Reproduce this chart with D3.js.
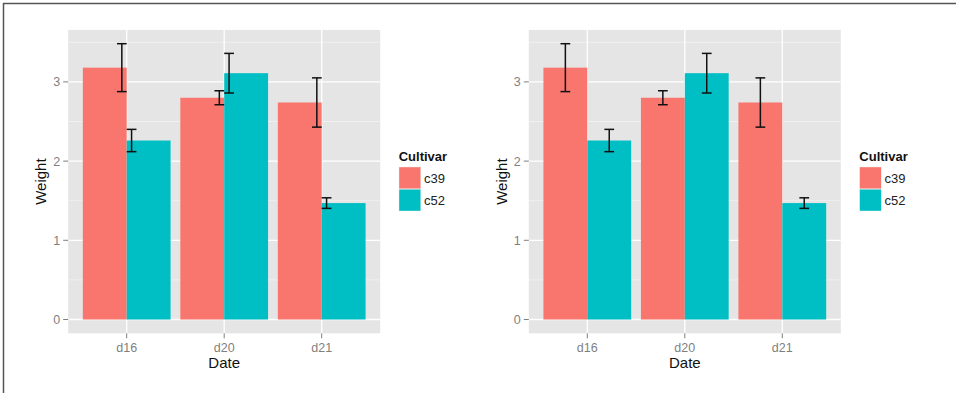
<!DOCTYPE html>
<html><head><meta charset="utf-8">
<script src="https://cdn.jsdelivr.net/npm/d3@7"></script>
<style>html,body{margin:0;padding:0;background:#fff;}svg{display:block;font-family:"Liberation Sans",Arial,sans-serif;}</style>
</head><body>
<svg id="chart" width="956" height="393"></svg>
<script>
const dates = ["d16", "d20", "d21"];
const cultivars = ["c39", "c52"];
const weightC39 = [3.18, 2.80, 2.74];
const weightC52 = [2.26, 3.11, 1.47];
const seC39 = [0.3025, 0.0882, 0.3110];
const seC52 = [0.1408, 0.2501, 0.0667];
const yTicks = [0, 1, 2, 3];
const yMinor = [0.5, 1.5, 2.5, 3.5];
const colors = ["#F8766D", "#00BFC4"];

const rows = [];
dates.forEach((d, i) => {
  rows.push({date: d, cultivar: "c39", weight: weightC39[i], se: seC39[i]});
  rows.push({date: d, cultivar: "c52", weight: weightC52[i], se: seC52[i]});
});

const svg = d3.select("#chart");
// outer frame (top and left)
svg.append("line").attr("x1", 3).attr("x2", 956).attr("y1", 3.5).attr("y2", 3.5).attr("stroke", "#555").attr("stroke-width", 1.5);
svg.append("line").attr("x1", 3.5).attr("x2", 3.5).attr("y1", 3).attr("y2", 393).attr("stroke", "#555").attr("stroke-width", 1.5);

const yMax = d3.max(rows, r => r.weight + r.se);
const yPad = yMax * 0.05;

function panel(ox, dodgeMode) {
  const left = ox + 68.2, right = ox + 380.2, top = 29.9, bottom = 333.3;
  const g = svg.append("g");
  const unit = (right - left) / (dates.length - 1 + 1.2);
  const xl = d3.scalePoint().domain(dates).range([left + 0.6 * unit, right - 0.6 * unit]);
  const y = d3.scaleLinear().domain([-yPad, yMax + yPad]).range([bottom, top]);
  const sub = d3.scaleBand().domain(cultivars).range([-0.45 * unit, 0.45 * unit]);

  g.append("rect").attr("x", left).attr("y", top).attr("width", right - left).attr("height", bottom - top).attr("fill", "#E5E5E5");
  g.selectAll(".minor").data(yMinor).join("line")
    .attr("x1", left).attr("x2", right).attr("y1", d => y(d)).attr("y2", d => y(d))
    .attr("stroke", "#F2F2F2").attr("stroke-width", 0.8);
  g.selectAll(".majy").data(yTicks).join("line")
    .attr("x1", left).attr("x2", right).attr("y1", d => y(d)).attr("y2", d => y(d))
    .attr("stroke", "#fff").attr("stroke-width", 1.3);
  g.selectAll(".majx").data(dates).join("line")
    .attr("x1", d => xl(d)).attr("x2", d => xl(d)).attr("y1", top).attr("y2", bottom)
    .attr("stroke", "#fff").attr("stroke-width", 1.3);

  g.selectAll(".bar").data(rows).join("rect")
    .attr("x", r => xl(r.date) + sub(r.cultivar))
    .attr("width", sub.bandwidth())
    .attr("y", r => y(r.weight))
    .attr("height", r => y(0) - y(r.weight))
    .attr("fill", r => colors[cultivars.indexOf(r.cultivar)]);

  // error bars: width 0.2, dodged
  const ebDodge = dodgeMode === "bad" ? 0.2 : 0.9;
  const ebSub = d3.scaleBand().domain(cultivars).range([-ebDodge / 2 * unit, ebDodge / 2 * unit]);
  const capW = 0.1 * unit;
  const eb = g.selectAll(".eb").data(rows).join("g")
    .attr("stroke", "#111").attr("stroke-width", 1.5).attr("fill", "none");
  const cx = r => xl(r.date) + ebSub(r.cultivar) + ebSub.bandwidth() / 2;
  eb.append("line").attr("x1", cx).attr("x2", cx).attr("y1", r => y(r.weight + r.se)).attr("y2", r => y(r.weight - r.se));
  eb.append("line").attr("x1", r => cx(r) - capW / 2).attr("x2", r => cx(r) + capW / 2).attr("y1", r => y(r.weight + r.se)).attr("y2", r => y(r.weight + r.se));
  eb.append("line").attr("x1", r => cx(r) - capW / 2).attr("x2", r => cx(r) + capW / 2).attr("y1", r => y(r.weight - r.se)).attr("y2", r => y(r.weight - r.se));

  // y axis ticks
  g.selectAll(".yt").data(yTicks).join("line")
    .attr("x1", left - 5).attr("x2", left).attr("y1", d => y(d)).attr("y2", d => y(d))
    .attr("stroke", "#7F7F7F").attr("stroke-width", 1);
  g.selectAll(".ytl").data(yTicks).join("text")
    .attr("x", left - 8).attr("y", d => y(d)).attr("dy", "0.36em")
    .attr("text-anchor", "end").attr("font-size", 12.5).attr("fill", "#7F7F7F").text(d => d);
  // x axis ticks
  g.selectAll(".xt").data(dates).join("line")
    .attr("x1", d => xl(d)).attr("x2", d => xl(d)).attr("y1", bottom).attr("y2", bottom + 5)
    .attr("stroke", "#7F7F7F").attr("stroke-width", 1);
  g.selectAll(".xtl").data(dates).join("text")
    .attr("x", d => xl(d)).attr("y", bottom + 19)
    .attr("text-anchor", "middle").attr("font-size", 12.5).attr("fill", "#7F7F7F").text(d => d);
  // titles
  g.append("text").attr("x", (left + right) / 2).attr("y", bottom + 35).attr("text-anchor", "middle")
    .attr("font-size", 15).attr("fill", "#111").text("Date");
  g.append("text").attr("transform", `translate(${left - 22},${(top + bottom) / 2}) rotate(-90)`)
    .attr("text-anchor", "middle").attr("font-size", 15).attr("fill", "#111").text("Weight");

  // legend
  const lx = right + 18.5, ly = 166.7, ks = 22.3;
  g.append("text").attr("x", lx).attr("y", ly - 6).attr("font-size", 13).attr("font-weight", "bold").attr("fill", "#111").text("Cultivar");
  const lg = g.selectAll(".lg").data(cultivars).join("g").attr("transform", (d, i) => `translate(${lx},${ly + i * ks})`);
  lg.append("rect").attr("width", ks).attr("height", ks).attr("fill", "#F2F2F2");
  lg.append("rect").attr("x", 0.5).attr("y", 0.5).attr("width", ks - 1).attr("height", ks - 1).attr("fill", (d, i) => colors[i]);
  lg.append("text").attr("x", ks + 3).attr("y", ks / 2).attr("dy", "0.36em").attr("font-size", 13).attr("fill", "#222").text(d => d);
}

panel(0, "bad");
panel(460.6, "good");
</script>
</body></html>
